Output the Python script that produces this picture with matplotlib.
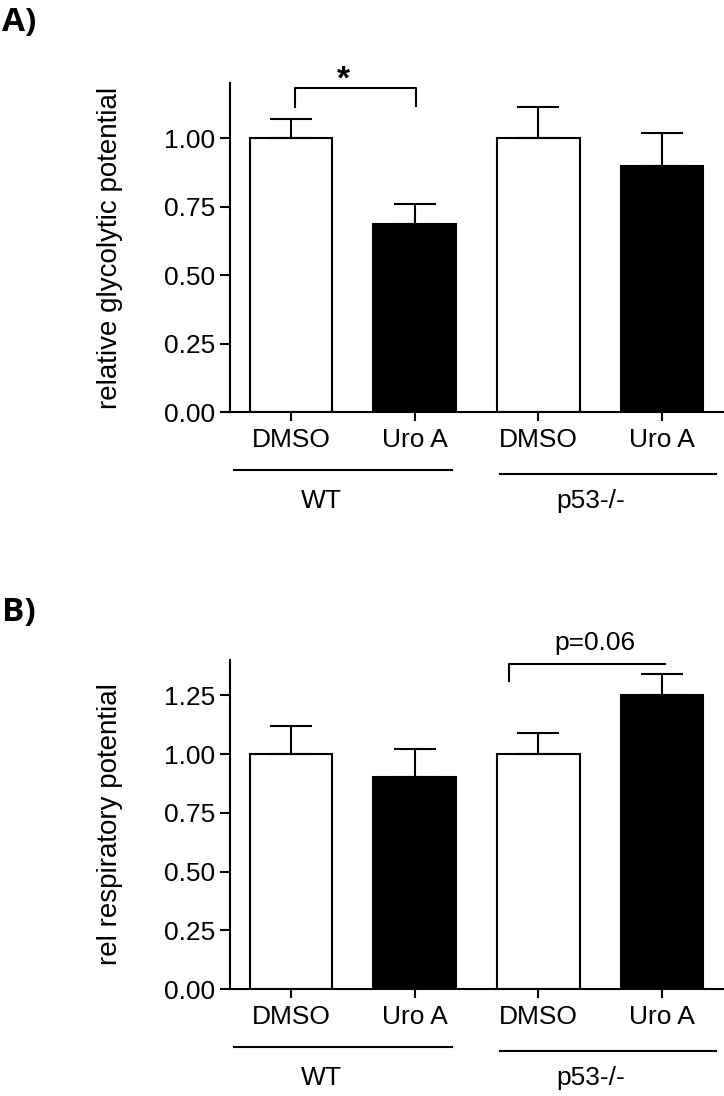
"""
Glycolytic / respiratory potential, WT vs p53-/- (DMSO vs Uro A).
"""
import matplotlib
matplotlib.use("Agg")
import matplotlib.pyplot as plt
import matplotlib.transforms as mtransforms
import numpy as np

plt.rcParams["font.family"] = ["Liberation Sans", "DejaVu Sans"]

conditions = ["DMSO", "Uro A", "DMSO", "Uro A"]
fills = ["white", "black", "white", "black"]
groups = ["WT", "p53-/-"]

glyco_mean = [1.00, 0.686, 1.00, 0.899]
glyco_sem = [0.069, 0.073, 0.115, 0.119]
resp_mean = [1.00, 0.902, 1.00, 1.253]
resp_sem = [0.12, 0.118, 0.089, 0.088]

yticks_a = [0.0, 0.25, 0.50, 0.75, 1.00]
yticks_b = [0.0, 0.25, 0.50, 0.75, 1.00, 1.25]

FS = 19
LW = 1.5


def bar_panel(ax, means, sems, ylim, yticks, ylabel):
    x = np.arange(len(means))
    ax.bar(x, means, width=0.667, color=fills, edgecolor="black", linewidth=LW, zorder=2)
    ax.errorbar(x, means, yerr=[np.zeros(len(sems)), sems], fmt="none", ecolor="black",
                elinewidth=LW, capsize=14.8, capthick=LW, zorder=3)
    ax.set_xlim(-0.493, 3.5); ax.set_ylim(*ylim)
    ax.set_yticks(yticks); ax.set_yticklabels([f"{v:.2f}" for v in yticks], fontsize=FS)
    ax.set_xticks(x); ax.set_xticklabels(conditions, fontsize=FS)
    for s in ("top", "right"): ax.spines[s].set_visible(False)
    for s in ("left", "bottom"): ax.spines[s].set_linewidth(LW)
    ax.tick_params(axis="y", length=7.2, width=LW, pad=3.6)
    ax.tick_params(axis="x", length=6.8, width=LW, pad=4.5)
    ax.set_ylabel(ylabel, fontsize=20)
    ax.yaxis.set_label_coords(-0.216, 0.5)
    # group lines under the tick labels
    tr = mtransforms.blended_transform_factory(ax.transData, ax.transAxes)
    ax.plot([-0.458, 1.298], [-0.1754, -0.1754], color="black", lw=LW, transform=tr, clip_on=False)
    ax.plot([1.688, 3.439], [-0.1875, -0.1875], color="black", lw=LW, transform=tr, clip_on=False)
    ax.text(0.245, -0.269, groups[0], fontsize=FS, ha="center", va="center", transform=tr)
    ax.text(2.419, -0.269, groups[1], fontsize=FS, ha="center", va="center", transform=tr)


fig = plt.figure(figsize=(7.24, 10.96), dpi=100)
ax_a = fig.add_axes([0.3177, 0.6238, 0.6823, 0.3002])
ax_b = fig.add_axes([0.3177, 0.0976, 0.6823, 0.3002])

bar_panel(ax_a, glyco_mean, glyco_sem, (0, 1.2), yticks_a, "relative glycolytic potential")
bar_panel(ax_b, resp_mean, resp_sem, (0, 1.4), yticks_b, "rel respiratory potential")

# significance brackets
ax_a.plot([0.03, 0.03, 1.01, 1.01], [1.113, 1.182, 1.182, 1.119], color="black", lw=LW, clip_on=False)
ax_a.text(0.42, 1.179, "*", fontsize=24, fontweight="bold", ha="center", va="baseline")
ax_b.plot([1.763, 1.763, 3.02], [1.309, 1.385, 1.385], color="black", lw=LW, clip_on=False)
ax_b.text(2.46, 1.473, "p=0.06", fontsize=FS, ha="center", va="center")

fig.text(0.003, 1 - 6 / 1096, "A)", fontsize=24, fontweight="bold", family="Open Sans", ha="left", va="top")
fig.text(0.003, 1 - 596 / 1096, "B)", fontsize=24, fontweight="bold", family="Open Sans", ha="left", va="top")

fig.savefig("out.png", dpi=100)
